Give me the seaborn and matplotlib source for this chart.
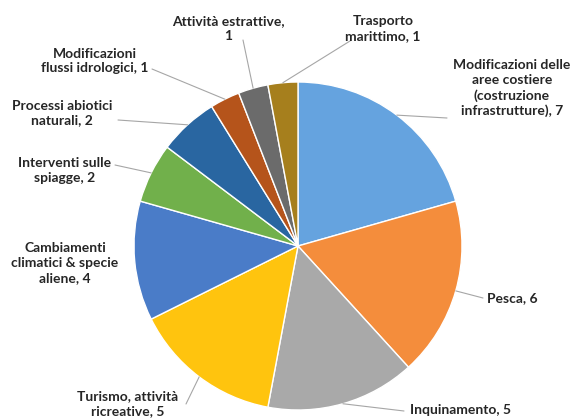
import numpy as np
import seaborn as sns
import matplotlib.pyplot as plt

sns.set_theme(style="white")
plt.rcParams['font.family'] = ['Lato', 'DejaVu Sans']

# data (clockwise from the top)
categories = [
    "Modificazioni delle\naree costiere\n(costruzione\ninfrastrutture), 7",
    "Pesca, 6",
    "Inquinamento, 5",
    "Turismo, attività\nricreative, 5",
    "Cambiamenti\nclimatici & specie\naliene, 4",
    "Interventi sulle\nspiagge, 2",
    "Processi abiotici\nnaturali, 2",
    "Modificazioni\nflussi idrologici, 1",
    "Attività estrattive,\n1",
    "Trasporto\nmarittimo, 1",
]
values = [7, 6, 5, 5, 4, 2, 2, 1, 1, 1]
colors = ["#65a3df", "#f48d3c", "#a9a9a9", "#ffc40e", "#4a7cc8",
          "#71b04b", "#2966a1", "#b5541b", "#6b6b6b", "#a67f1d"]

# label placement in pixel coords (x, y from top) and leader line start
label_pos = [(512, 88), (512, 298), (460, 410), (128, 404), (65, 263),
             (65, 171), (62, 113), (95, 61), (228, 29), (383, 29)]
line_start = [(447, 118), (483, 298), (404, 411), (186, 404), None,
              (115, 165), (118, 120), (152, 69), (243, 40), (350, 41)]

W, H = 580, 419
fig = plt.figure(figsize=(W / 100, H / 100), dpi=100)
ax = fig.add_axes([0, 0, 1, 1])

cx, cy, r = 298, 246, 164
wedges, _ = ax.pie(values, colors=colors, startangle=90, counterclock=False,
                   center=(cx, H - cy), radius=r,
                   wedgeprops=dict(edgecolor="white", linewidth=1.0))

for w, lab, (lx, ly), ls in zip(wedges, categories, label_pos, line_start):
    ax.text(lx, H - ly, lab, ha="center", va="center", fontsize=10,
            fontweight="bold", color="#262626", linespacing=1.3)
    if ls is not None:
        ang = np.deg2rad((w.theta1 + w.theta2) / 2)
        ex = cx + r * np.cos(ang)
        ey = H - cy + r * np.sin(ang)
        ax.plot([ls[0], ex], [H - ls[1], ey], color="#a6a6a6", lw=0.8)

ax.set_xlim(0, W)
ax.set_ylim(0, H)
ax.set_aspect("equal")
ax.axis("off")

fig.savefig("out.png", dpi=100)
